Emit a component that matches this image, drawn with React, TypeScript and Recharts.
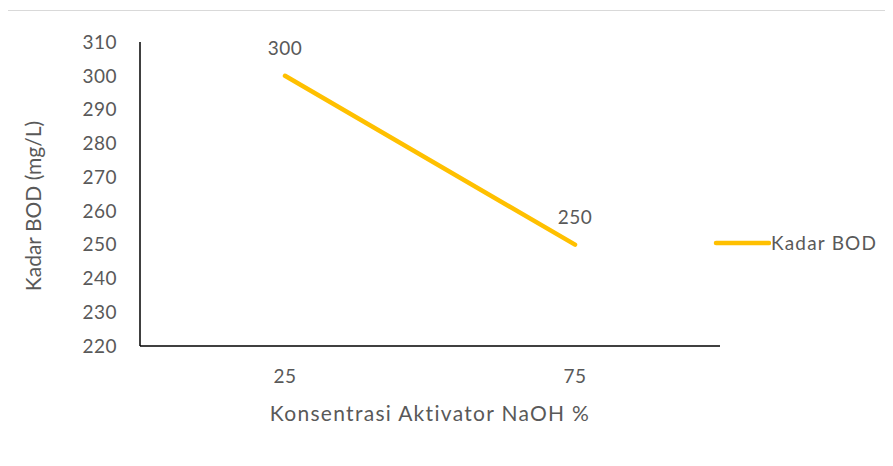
import { LineChart, Line, XAxis, YAxis, LabelList } from 'recharts'

const concentrations = ['25', '75']
const bodValues = [300, 250]
const yTicks = [220, 230, 240, 250, 260, 270, 280, 290, 300, 310]

const data = concentrations.map((c, i) => ({ konsentrasi: c, bod: bodValues[i] }))

const font = 'Lato, "Open Sans", sans-serif'
const textColor = '#595959'
const lineColor = '#FFC000'

// legend sits to the right of the plot, outside recharts' layout
function BodLegend() {
  return (
    <div
      style={{
        position: 'absolute',
        left: 705,
        top: 220,
        display: 'flex',
        alignItems: 'center',
        fontFamily: font,
        fontSize: 19,
        letterSpacing: 1.2,
        color: textColor,
      }}
    >
      <svg width={58} height={10}>
        <line x1={3} y1={5} x2={56} y2={5} stroke={lineColor} strokeWidth={4.5} strokeLinecap="round" />
      </svg>
      <span>Kadar BOD</span>
    </div>
  )
}

// rotated y title, nudged a bit below the plot's middle like the original
function YTitle(props: any) {
  const { viewBox } = props
  const x = viewBox.x + 24
  const y = viewBox.y + viewBox.height / 2 + 12
  return (
    <text
      x={x}
      y={y}
      transform={`rotate(-90, ${x}, ${y})`}
      textAnchor="middle"
      dominantBaseline="central"
      fill={textColor}
      fontSize={21}
    >
      Kadar BOD (mg/L)
    </text>
  )
}

export default function App() {
  return (
    <div
      style={{
        position: 'relative',
        marginLeft: -1,
        marginTop: 2,
        width: 890,
        height: 470,
        border: '1px solid #d9d9d9',
        boxSizing: 'border-box',
        background: '#fff',
      }}
    >
      <LineChart
        width={885}
        height={455}
        data={data}
        margin={{ top: 31, right: 173, bottom: 40, left: 0 }}
        style={{ fontFamily: font }}
      >
        <XAxis
          dataKey="konsentrasi"
          padding={{ left: 145, right: 145 }}
          stroke="#000"
          strokeWidth={1.5}
          tickLine={false}
          tickSize={0}
          tickMargin={24}
          height={80}
          tick={{ fill: textColor, fontSize: 19, letterSpacing: 0.5 }}
          label={{
            value: 'Konsentrasi Aktivator NaOH %',
            position: 'insideBottom',
            offset: 5,
            fill: textColor,
            fontSize: 21,
            letterSpacing: 1.3,
          }}
        />
        <YAxis
          domain={[220, 310]}
          ticks={yTicks}
          interval={0}
          width={132}
          stroke="#000"
          strokeWidth={1.5}
          tickLine={false}
          tickSize={0}
          tickMargin={23}
          tick={{ fill: textColor, fontSize: 19, letterSpacing: 0.5 }}
          label={<YTitle />}
        />
        <Line
          dataKey="bod"
          name="Kadar BOD"
          stroke={lineColor}
          strokeWidth={4.5}
          strokeLinecap="round"
          dot={false}
          activeDot={false}
          isAnimationActive={false}
        >
          <LabelList dataKey="bod" position="top" offset={21} fill={textColor} fontSize={19} letterSpacing={0.5} />
        </Line>
      </LineChart>
      <BodLegend />
    </div>
  )
}
